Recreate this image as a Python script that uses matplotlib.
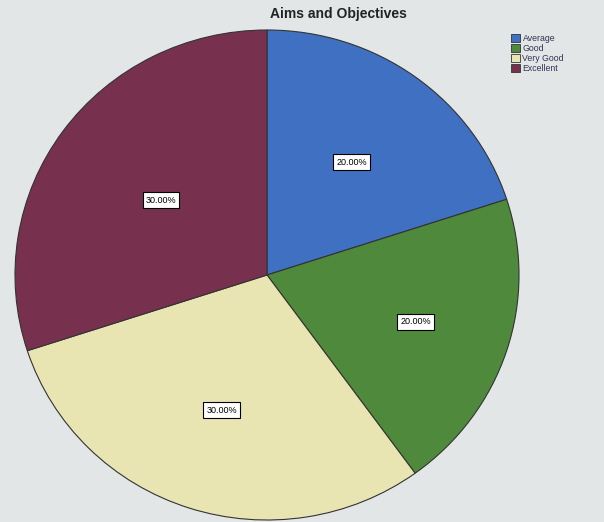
import numpy as np
import matplotlib.pyplot as plt
from matplotlib.patches import Patch

plt.rcParams['font.family'] = ['Liberation Sans', 'DejaVu Sans']

categories = ["Average", "Good", "Very Good", "Excellent"]
values = [20.0, 20.0, 30.0, 30.0]
colors = ["#4070c2", "#4f8a3c", "#e9e5b3", "#78304f"]
label_dist = [0.57, 0.62, 0.58, 0.52]
BG = "#e2e6e6"

fig = plt.figure(figsize=(6.04, 5.22), dpi=100, facecolor=BG)

# the photo squashes the circle a bit, so x and y radii differ
W, H = 604.0, 522.0
rx, ry = 252.0, 245.0
cx, cy = 267.0, H - 275.0
ax = fig.add_axes([(cx - rx) / W, (cy - ry) / H, 2 * rx / W, 2 * ry / H])
ax.set_facecolor(BG)

wedges, texts, autotexts = ax.pie(
    values, colors=colors, startangle=90, counterclock=False,
    autopct="%.2f%%", pctdistance=0.58, radius=1.0,
    wedgeprops=dict(edgecolor="#333333", linewidth=0.8),
)
for w, t, d in zip(wedges, autotexts, label_dist):
    ang = np.deg2rad((w.theta1 + w.theta2) / 2)
    t.set_position((d * np.cos(ang), d * np.sin(ang)))
    t.set_fontsize(6.5)
    t.set_color("black")
    t.set_bbox(dict(boxstyle="square,pad=0.35", facecolor="white", edgecolor="black", linewidth=0.8))
ax.set_xlim(-1.0, 1.0)
ax.set_ylim(-1.0, 1.0)
ax.set_aspect("auto")
ax.axis("off")

fig.text(338 / W, 1 - 14 / H, "Aims and Objectives", ha="center", va="center",
         fontsize=10, fontweight="bold", color="#222222")

handles = [Patch(facecolor=c, edgecolor="#333333", linewidth=0.6) for c in colors]
fig.legend(handles, categories, loc="upper left", bbox_to_anchor=(505 / W, 1 - 28 / H),
           frameon=False, fontsize=6.3, handlelength=1.0, handleheight=1.0,
           handletextpad=0.3, labelspacing=0.12, borderpad=0.2, labelcolor="#333355")

fig.savefig("out.png", dpi=100, facecolor=BG)
